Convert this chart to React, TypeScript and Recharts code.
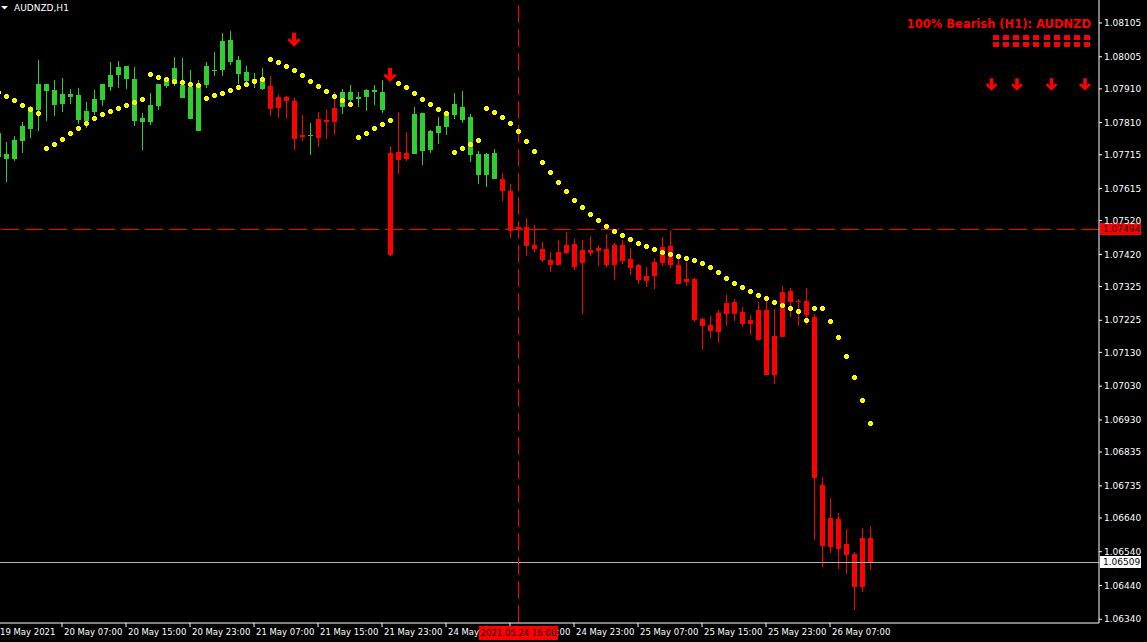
import { ComposedChart, Bar, Scatter, XAxis, YAxis, ReferenceLine } from "recharts";

// AUDNZD H1 candles, bar 0 = 19 May 23:00
const OPEN = [
  1.07708, 1.07702, 1.07702, 1.07756, 1.07791, 1.07847, 1.07904, 1.07862, 1.07865, 1.07886,
  1.07818, 1.07815, 1.07841, 1.07877, 1.07915, 1.07951, 1.07939, 1.07815, 1.07812, 1.07812,
  1.07859, 1.07918, 1.07924, 1.07883, 1.07821, 1.07785, 1.07921, 1.07963, 1.07966, 1.07989,
  1.07954, 1.07933, 1.07936, 1.0791, 1.07918, 1.07886, 1.07886, 1.07874, 1.07773, 1.0777,
  1.07821, 1.07818, 1.07853, 1.07856, 1.07877, 1.0788, 1.07886, 1.07901, 1.07847, 1.0772,
  1.07723, 1.0772, 1.07717, 1.07726, 1.07729, 1.07779, 1.07797, 1.07833, 1.07818, 1.07714,
  1.07655, 1.07655, 1.07643, 1.07643, 1.07608, 1.07501, 1.07501, 1.07448, 1.07436, 1.07403,
  1.07427, 1.07448, 1.07451, 1.07433, 1.07433, 1.07439, 1.07436, 1.07448, 1.07448, 1.07406,
  1.07389, 1.07356, 1.07397, 1.07442, 1.07445, 1.07389, 1.07347, 1.07347, 1.07229, 1.07211,
  1.07247, 1.07276, 1.07279, 1.07249, 1.07226, 1.07255, 1.07255, 1.07178, 1.07309, 1.07312,
  1.07282, 1.07282, 1.07235, 1.06737, 1.0664, 1.06637, 1.06563, 1.06533, 1.06581, 1.06581,
];
const HIGH = [
  1.07788, 1.07753, 1.0777, 1.07812, 1.07859, 1.07995, 1.07924, 1.07936, 1.07942, 1.0791,
  1.07913, 1.07871, 1.07907, 1.07924, 1.07989, 1.07992, 1.07978, 1.07975, 1.07839, 1.07898,
  1.07924, 1.07942, 1.08004, 1.08001, 1.07966, 1.07936, 1.07989, 1.08019, 1.08075, 1.08081,
  1.08007, 1.07978, 1.07957, 1.07972, 1.07948, 1.07892, 1.07889, 1.07883, 1.07833, 1.07809,
  1.07841, 1.07847, 1.07901, 1.0791, 1.07921, 1.07901, 1.0791, 1.07921, 1.07936, 1.07741,
  1.07841, 1.07782, 1.07856, 1.07839, 1.07788, 1.07827, 1.07844, 1.07898, 1.07904, 1.07836,
  1.07726, 1.0772, 1.07732, 1.07661, 1.07628, 1.07504, 1.07528, 1.07507, 1.07457, 1.07427,
  1.07463, 1.07486, 1.07466, 1.07463, 1.07474, 1.07448, 1.0748, 1.07454, 1.07463, 1.07439,
  1.07392, 1.07383, 1.07409, 1.07471, 1.07489, 1.07409, 1.07397, 1.0735, 1.07232, 1.07238,
  1.07255, 1.073, 1.07288, 1.07264, 1.07241, 1.07279, 1.07288, 1.07258, 1.07326, 1.07321,
  1.07288, 1.07321, 1.07244, 1.06761, 1.06699, 1.06655, 1.06607, 1.06539, 1.0661, 1.06616,
];
const LOW = [
  1.07699, 1.07634, 1.07696, 1.0772, 1.07765, 1.07785, 1.07815, 1.0783, 1.07841, 1.07865,
  1.07806, 1.07794, 1.07833, 1.07859, 1.07904, 1.07913, 1.0791, 1.078, 1.07729, 1.07803,
  1.07847, 1.07913, 1.07918, 1.07883, 1.07821, 1.07785, 1.07913, 1.07948, 1.07948, 1.07981,
  1.07924, 1.07924, 1.07913, 1.07907, 1.0783, 1.07824, 1.07821, 1.07729, 1.07756, 1.07714,
  1.07738, 1.07762, 1.07773, 1.07836, 1.07865, 1.07856, 1.07844, 1.07862, 1.07839, 1.07415,
  1.07658, 1.07696, 1.07717, 1.07685, 1.0772, 1.07747, 1.07773, 1.07821, 1.07809, 1.07693,
  1.07628, 1.07619, 1.07643, 1.07578, 1.07469, 1.07486, 1.07415, 1.07427, 1.07397, 1.07368,
  1.07389, 1.07421, 1.07374, 1.07244, 1.07415, 1.07386, 1.07383, 1.07344, 1.07392, 1.07359,
  1.07332, 1.07323, 1.07318, 1.07386, 1.0738, 1.07332, 1.07326, 1.0722, 1.07137, 1.07173,
  1.07158, 1.07208, 1.07223, 1.07205, 1.07181, 1.07167, 1.07063, 1.07036, 1.07175, 1.07235,
  1.07208, 1.07211, 1.06575, 1.06495, 1.06536, 1.06489, 1.06474, 1.06367, 1.06421, 1.06486,
];
const CLOSE = [
  1.07779, 1.07717, 1.07759, 1.078, 1.07856, 1.07924, 1.07924, 1.07907, 1.07895, 1.07895,
  1.07892, 1.07844, 1.0788, 1.07924, 1.07951, 1.07975, 1.07978, 1.07939, 1.07824, 1.07862,
  1.07924, 1.07939, 1.07972, 1.07921, 1.07915, 1.07924, 1.07978, 1.07966, 1.08052, 1.08055,
  1.07995, 1.0796, 1.07939, 1.07942, 1.0785, 1.07853, 1.07874, 1.07762, 1.07767, 1.07773,
  1.07765, 1.07812, 1.07812, 1.07901, 1.07901, 1.07886, 1.07907, 1.07907, 1.07901, 1.07418,
  1.07699, 1.07702, 1.07836, 1.07839, 1.07785, 1.078, 1.07839, 1.07865, 1.07856, 1.07827,
  1.07717, 1.07717, 1.0772, 1.07608, 1.07489, 1.07492, 1.07445, 1.07436, 1.07403, 1.07389,
  1.07389, 1.07424, 1.07383, 1.07395, 1.07424, 1.0743, 1.07389, 1.07389, 1.074, 1.0738,
  1.07344, 1.07341, 1.07356, 1.07395, 1.07389, 1.07332, 1.07338, 1.07226, 1.07208, 1.07193,
  1.0719, 1.07244, 1.07244, 1.07214, 1.07214, 1.07167, 1.07063, 1.07063, 1.07175, 1.07279,
  1.07279, 1.07241, 1.06758, 1.06557, 1.06554, 1.06548, 1.0653, 1.06435, 1.06435, 1.06509,
];
// yellow trailing-stop dots, one per bar
const STOP_DOTS = [
  1.07901, 1.07889, 1.07877, 1.07862, 1.0785, 1.07839, 1.07735, 1.07747, 1.07762, 1.07779,
  1.07794, 1.07809, 1.07824, 1.07836, 1.07844, 1.07853, 1.07862, 1.07871, 1.0788, 1.07954,
  1.07945, 1.07939, 1.07933, 1.0793, 1.07924, 1.07921, 1.07883, 1.07892, 1.07898, 1.07907,
  1.07915, 1.07924, 1.07933, 1.07939, 1.07998, 1.07989, 1.07978, 1.07966, 1.07951, 1.07933,
  1.07918, 1.07904, 1.07889, 1.07877, 1.07865, 1.07767, 1.07779, 1.07794, 1.07806, 1.07818,
  1.07927, 1.07915, 1.07898, 1.0788, 1.07865, 1.0785, 1.07839, 1.07723, 1.07735, 1.07747,
  1.07759, 1.07853, 1.07841, 1.07827, 1.07809, 1.07785, 1.07756, 1.07726, 1.07693, 1.07664,
  1.07634, 1.07608, 1.07581, 1.0756, 1.0754, 1.07522, 1.07504, 1.07489, 1.07477, 1.07466,
  1.07454, 1.07445, 1.07436, 1.07427, 1.07421, 1.07415, 1.07409, 1.07403, 1.07395, 1.07383,
  1.07368, 1.0735, 1.07335, 1.07323, 1.07312, 1.073, 1.07291, 1.07279, 1.0727, 1.07261,
  1.07252, 1.07226, 1.07261, 1.07261, 1.07223, 1.07175, 1.07119, 1.07057, 1.06989, 1.06921,
];
const SIGNAL_BARS = [37, 49];
const SIGNAL_PRICES = [1.08055, 1.07951];

const TIME_TICKS = [0, 8, 16, 24, 32, 40, 48, 56, 64, 72, 80, 88, 96, 104];
const TIME_LABELS = [
  "19 May 2021", "20 May 07:00", "20 May 15:00", "20 May 23:00", "21 May 07:00",
  "21 May 15:00", "21 May 23:00", "24 May 07:00", "24 May 15:00", "24 May 23:00",
  "25 May 07:00", "25 May 15:00", "25 May 23:00", "26 May 07:00",
];
const PRICE_TICKS = [
  1.08105, 1.08005, 1.0791, 1.0781, 1.07715, 1.07615, 1.0752, 1.0742, 1.07325, 1.07225,
  1.0713, 1.0703, 1.0693, 1.06835, 1.06735, 1.0664, 1.0654, 1.0644, 1.0634,
];
const CROSS_BAR = 65;
const CROSS_TIME = "2021.05.24 16:00";
const CROSS_PRICE = 1.07494;
const BID = 1.06509;

const GREEN = "#32cd32";
const RED = "#ff0000";
const YELLOW = "#ffff00";
const AXIS_FONT = "'DejaVu Sans', Verdana, sans-serif";

// chart geometry: plot is 1101px wide for 137.625 bars -> 8px per bar, shifted 2px left
const BAR_PX = 8;
const SHIFT = -2;
const PLOT_H = 623;

const candles = OPEN.map((o, i) => ({ k: i, open: o, high: HIGH[i], low: LOW[i], close: CLOSE[i] }));
const dots = STOP_DOTS.map((v, i) => ({ k: i, v }));
const signals = SIGNAL_BARS.map((k, i) => ({ k, v: SIGNAL_PRICES[i] }));

function Candle(props: any) {
  const { x, y, width, height, payload } = props;
  if (x == null || y == null || !payload) return null;
  const top = Math.min(y, y + height);
  const span = Math.abs(height);
  const ppu = span / (payload.high - payload.low || 1);
  const cx = Math.round(x + width / 2 + 0.3);
  const yOf = (p: number) => top + (payload.high - p) * ppu;
  const bTop = Math.round(yOf(Math.max(payload.open, payload.close)));
  const bBot = Math.round(yOf(Math.min(payload.open, payload.close)));
  const color = payload.close >= payload.open ? GREEN : RED;
  return (
    <g shapeRendering="crispEdges">
      <rect x={cx} y={Math.round(top)} width={1} height={Math.max(1, Math.round(span))} fill={color} />
      <rect x={cx - 2} y={bTop} width={5} height={Math.max(1, bBot - bTop)} fill={color} />
    </g>
  );
}

function StopDot({ cx, cy }: any) {
  if (cx == null || cy == null) return null;
  const x = Math.round(cx);
  const y = Math.round(cy);
  return (
    <g shapeRendering="crispEdges">
      <rect x={x - 2} y={y - 1} width={5} height={3} fill={YELLOW} />
      <rect x={x - 1} y={y - 2} width={3} height={5} fill={YELLOW} />
      <rect x={x} y={y} width={1} height={1} fill="#9be000" />
    </g>
  );
}

function DownArrow({ cx, cy, s = 1 }: any) {
  if (cx == null || cy == null) return null;
  const pts = [
    [-2, -7], [2, -7], [2, 1], [4.5, -1.5], [6.5, 0.5], [0, 7], [-6.5, 0.5], [-4.5, -1.5], [-2, 1],
  ]
    .map(([a, b]) => `${cx + a * s},${cy + b * s}`)
    .join(" ");
  return <polygon points={pts} fill={RED} />;
}

function TimeTick({ x, y, payload }: any) {
  const i = TIME_TICKS.indexOf(payload.value);
  return (
    <text x={x + 2} y={y} dy="0.75em" fill="#fff" fontSize={8.5} fontFamily={AXIS_FONT}>
      {TIME_LABELS[i]}
    </text>
  );
}

function PriceBox({ viewBox, text, bg }: any) {
  if (!viewBox) return null;
  const x = viewBox.x + viewBox.width + 1;
  const y = Math.round(viewBox.y);
  return (
    <g>
      <rect x={x} y={y - 6} width={41} height={12} fill={bg} />
      <text x={x + 3} y={y} dy="0.36em" fill="#000" fontSize={9} fontFamily={AXIS_FONT}>
        {text}
      </text>
    </g>
  );
}

// overlay drawn above the axis: crosshair time box, title, signal dashboard
function Overlay() {
  const cx = CROSS_BAR * BAR_PX + SHIFT + 0.5;
  const squares = [];
  for (let r = 0; r < 2; r++) {
    for (let c = 0; c < 10; c++) {
      squares.push(<rect key={`${r}-${c}`} x={993 + c * 10.1} y={35 + r * 7} width={6} height={5} fill={RED} />);
    }
  }
  return (
    <svg width={1147} height={642} style={{ position: "absolute", left: 0, top: 0, pointerEvents: "none" }}>
      <rect x={cx - 39.5} y={PLOT_H + 3} width={79} height={14} fill={RED} />
      <text x={cx} y={PLOT_H + 10} dy="0.36em" textAnchor="middle" fill="#000" fontSize={8.5} fontFamily={AXIS_FONT}>
        {CROSS_TIME}
      </text>
      <polygon points="1,6 8,6 4.5,9.5" fill="#fff" />
      <text x={14} y={11} fill="#fff" fontSize={9} fontFamily={AXIS_FONT}>
        AUDNZD,H1
      </text>
      <text x={1091} y={28} textAnchor="end" fill={RED} fontSize={11.5} fontWeight="bold" fontFamily={AXIS_FONT}>
        100% Bearish (H1): AUDNZD
      </text>
      <g shapeRendering="crispEdges">{squares}</g>
      {[991.5, 1017, 1051.5, 1085].map((x) => (
        <DownArrow key={x} cx={x} cy={84.5} s={0.9} />
      ))}
    </svg>
  );
}

export default function App() {
  return (
    <div style={{ position: "absolute", left: 0, top: 0, width: 1147, height: 642, background: "#000", overflow: "hidden" }}>
      <div style={{ position: "absolute", left: SHIFT, top: 0 }}>
        <ComposedChart width={1149} height={642} data={candles} margin={{ top: 0, right: 0, bottom: 0, left: 0 }}>
          <XAxis
            dataKey="k"
            type="number"
            domain={[0, 137.625]}
            allowDataOverflow
            ticks={TIME_TICKS}
            interval={0}
            height={19}
            tickSize={4}
            stroke="#fff"
            tick={<TimeTick />}
          />
          <YAxis
            orientation="right"
            type="number"
            domain={[1.06329, 1.08173]}
            allowDataOverflow
            ticks={PRICE_TICKS}
            interval={0}
            width={48}
            tickSize={3}
            tickMargin={2}
            stroke="#fff"
            tick={{ fill: "#fff", fontSize: 9, fontFamily: AXIS_FONT }}
            tickFormatter={(v: number) => v.toFixed(5)}
          />
          <ReferenceLine
            y={BID}
            stroke="#b4b4b4"
            shapeRendering="crispEdges"
            label={(p: any) => <PriceBox viewBox={p.viewBox} text={BID.toFixed(5)} bg="#fff" />}
          />
          <ReferenceLine
            y={CROSS_PRICE}
            stroke={RED}
            strokeDasharray="18 6"
            shapeRendering="crispEdges"
            label={(p: any) => <PriceBox viewBox={p.viewBox} text={CROSS_PRICE.toFixed(5)} bg={RED} />}
          />
          <ReferenceLine x={CROSS_BAR + 0.0625} stroke={RED} strokeDasharray="18 6" shapeRendering="crispEdges" />
          <Bar dataKey={(d: any) => [d.low, d.high]} barSize={5} shape={<Candle />} isAnimationActive={false} />
          <Scatter data={dots} dataKey="v" shape={<StopDot />} isAnimationActive={false} />
          <Scatter data={signals} dataKey="v" shape={<DownArrow />} isAnimationActive={false} />
        </ComposedChart>
      </div>
      <Overlay />
    </div>
  );
}
